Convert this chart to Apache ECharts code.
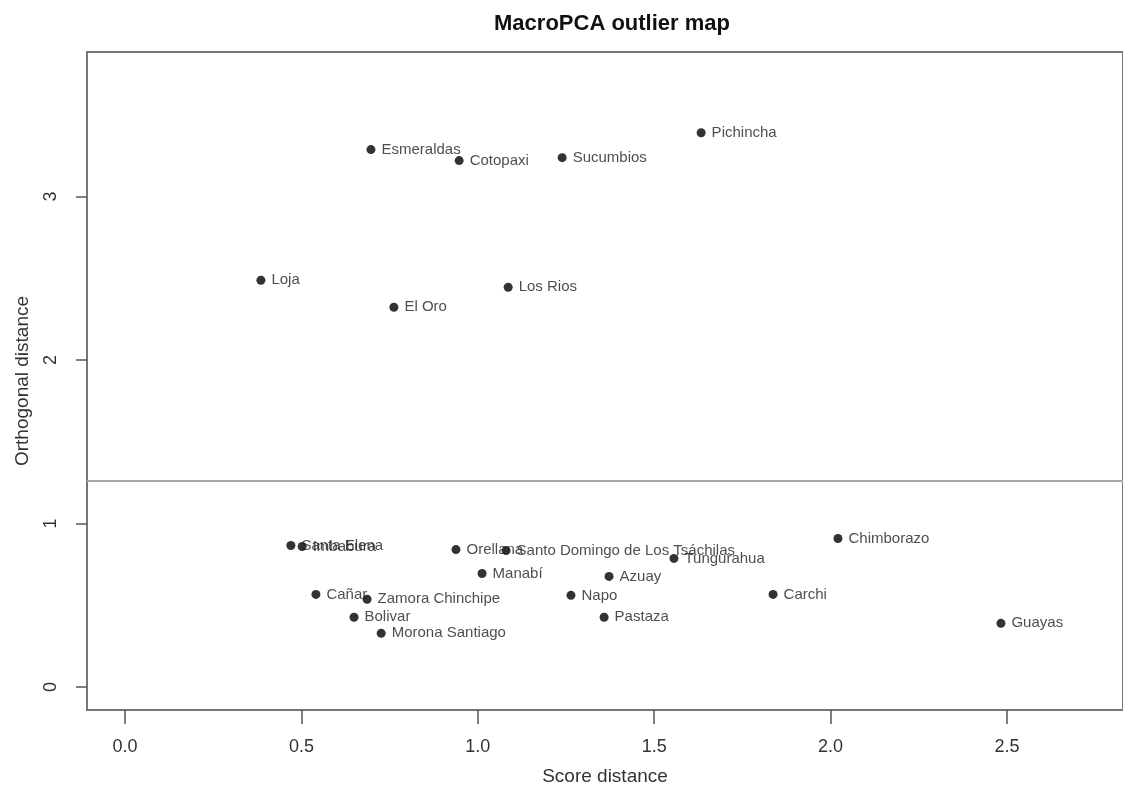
<!DOCTYPE html>
<html>
<head>
<meta charset="utf-8">
<script src="https://cdn.jsdelivr.net/npm/echarts@6/dist/echarts.min.js"></script>
<style>
html,body{margin:0;padding:0;background:#fff;}
#chart{width:1123px;height:791px;}
</style>
</head>
<body>
<div id="chart"></div>
<script>
const names = ["Pichincha","Esmeraldas","Cotopaxi","Sucumbios","Loja","El Oro","Los Rios",
  "Santa Elena","Imbabura","Orellana","Santo Domingo de Los Tsáchilas","Tungurahua","Chimborazo",
  "Manabí","Azuay","Cañar","Zamora Chinchipe","Napo","Carchi","Bolivar","Pastaza","Morona Santiago","Guayas"];
const scoreDist = [1.633,0.697,0.947,1.239,0.385,0.762,1.086,
  0.470,0.502,0.938,1.080,1.556,2.021,
  1.012,1.372,0.541,0.686,1.264,1.837,0.649,1.358,0.726,2.483];
const orthDist = [3.390,3.287,3.220,3.238,2.488,2.323,2.445,
  0.866,0.860,0.841,0.835,0.787,0.909,
  0.695,0.677,0.567,0.537,0.561,0.567,0.427,0.427,0.329,0.390];
const xTicks = [0,0.5,1,1.5,2,2.5];
const yTicks = [0,1,2,3];
const cutoff = 1.256;

const chart = echarts.init(document.getElementById('chart'));
const font = "'Liberation Sans', Arial, sans-serif";
chart.setOption({
  animation:false,
  backgroundColor:'#fff',
  title:{
    text:'MacroPCA outlier map', left:607, top:8, textAlign:'center',
    textStyle:{fontFamily:font, fontWeight:'bold', fontSize:22, color:'#111'}
  },
  grid:{left:87, right:0, top:52, bottom:79, show:true, borderColor:'#777', borderWidth:2, backgroundColor:'transparent'},
  xAxis:{
    type:'value', min:-0.108, max:2.829,
    name:'Score distance', nameLocation:'middle', nameGap:57,
    nameTextStyle:{fontFamily:font, fontSize:19, color:'#333'},
    axisLine:{show:false, onZero:false},
    axisTick:{show:true, length:14, customValues:xTicks, lineStyle:{color:'#555', width:1.5}},
    axisLabel:{customValues:xTicks, margin:28, fontFamily:font, fontSize:18, color:'#333',
      formatter:v=>v.toFixed(1)},
    splitLine:{show:false}
  },
  yAxis:{
    type:'value', min:-0.14, max:3.884,
    name:'Orthogonal distance', nameLocation:'middle', nameGap:55, nameRotate:90,
    nameTextStyle:{fontFamily:font, fontSize:19, color:'#333'},
    axisLine:{show:false, onZero:false},
    axisTick:{show:true, length:11, customValues:yTicks, lineStyle:{color:'#555', width:1.5}},
    axisLabel:{customValues:yTicks, rotate:90, margin:36, fontFamily:font, fontSize:18, color:'#333',
      formatter:v=>String(v), align:'center', verticalAlign:'middle'},
    splitLine:{show:false}
  },
  series:[{
    type:'scatter',
    symbol:'circle', symbolSize:9,
    itemStyle:{color:'#000'},
    data: names.map((n,i)=>({name:n, value:[scoreDist[i], orthDist[i]]})),
    label:{show:true, position:'right', distance:6, formatter:p=>p.name,
      fontFamily:font, fontSize:15, color:'#222'},
    labelLayout:{hideOverlap:false},
    markLine:{
      silent:true, symbol:['none','none'], label:{show:false},
      lineStyle:{color:'#a8a8a8', width:2, type:'solid'},
      data:[{yAxis:cutoff}]
    }
  }]
});
</script>
</body>
</html>
